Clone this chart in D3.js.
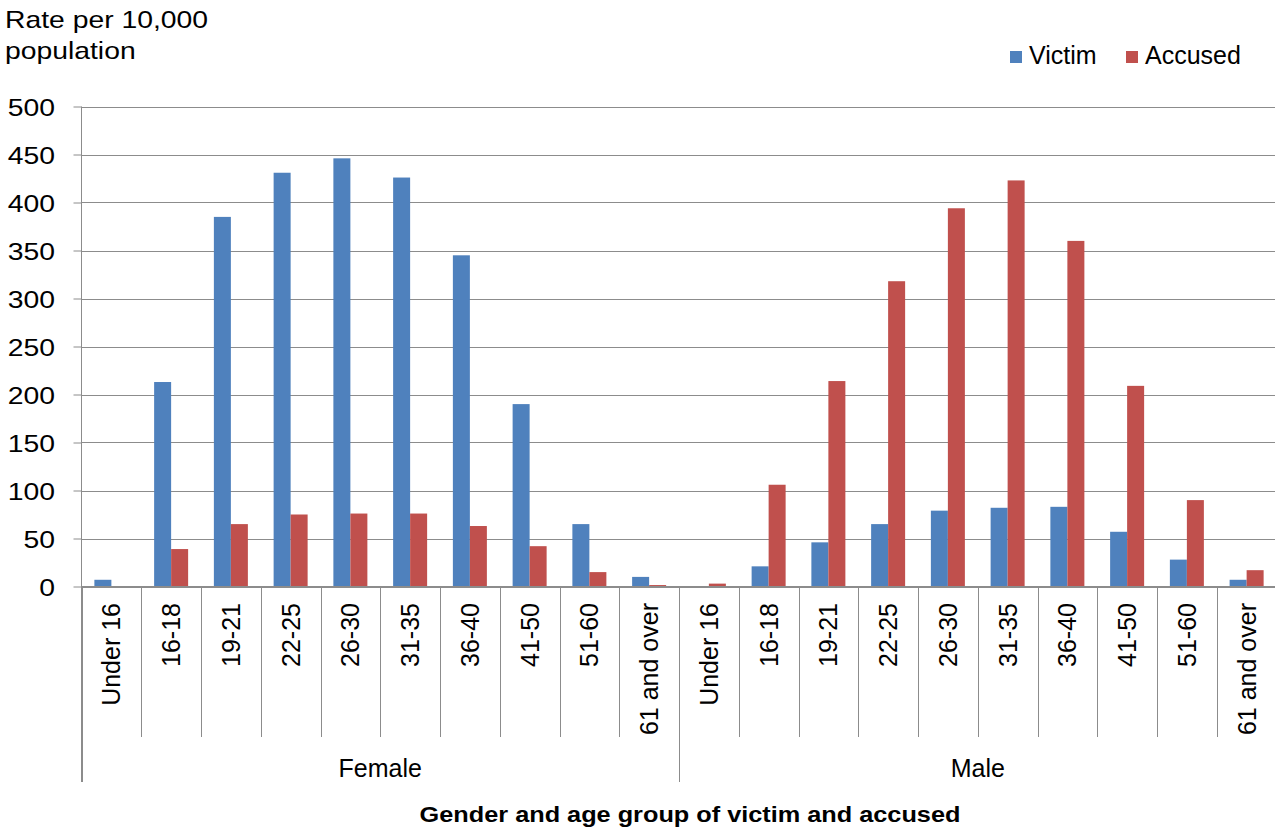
<!DOCTYPE html>
<html>
<head>
<meta charset="utf-8">
<script src="https://cdn.jsdelivr.net/npm/d3@7"></script>
<style>
  html, body { margin: 0; padding: 0; background: #fff; }
  svg { display: block; font-family: "Liberation Sans", Arial, sans-serif; }
</style>
</head>
<body>
<svg id="chart" width="1275" height="829"></svg>
<script>
// Age groups, repeated for each gender
const ageGroups = ["Under 16", "16-18", "19-21", "22-25", "26-30", "31-35", "36-40", "41-50", "51-60", "61 and over"];
const genders = ["Female", "Male"];
const seriesNames = ["Victim", "Accused"];
const seriesColors = ["#4F81BD", "#C0504D"];

// Rate per 10,000 population
const femaleVictim  = [7, 213, 385, 431, 446, 426, 345, 190, 65, 10];
const femaleAccused = [0, 39, 65, 75, 76, 76, 63, 42, 15, 1.5];
const maleVictim    = [0, 21, 46, 65, 79, 82, 83, 57, 28, 7];
const maleAccused   = [3, 106, 214, 318, 394, 423, 360, 209, 90, 17];

const yTicks = [0, 50, 100, 150, 200, 250, 300, 350, 400, 450, 500];

const rows = [];
genders.forEach((g, gi) => {
  const v = gi === 0 ? femaleVictim : maleVictim;
  const a = gi === 0 ? femaleAccused : maleAccused;
  ageGroups.forEach((age, i) => {
    rows.push({ key: g + "|" + age, gender: g, age: age, Victim: v[i], Accused: a[i] });
  });
});

const svg = d3.select("#chart");
const plotLeft = 81.5, plotRight = 1276.5, plotTop = 106.5, plotBottom = 586.5;
const gridColor = "#8c8c8c";
const wide = 1.18; // horizontal stretch of the wide-set labels

const x0 = d3.scaleBand().domain(rows.map(d => d.key)).range([plotLeft, plotRight]).padding(0);
const bw = x0.bandwidth();
const barW = 17;
const x1 = d3.scaleBand().domain(seriesNames).range([bw / 2 - barW, bw / 2 + barW]).padding(0);
const y = d3.scaleLinear().domain([0, 500]).range([plotBottom, plotTop]);

// Horizontal gridlines with tick marks
const yAxis = d3.axisLeft(y).tickValues(yTicks).tickSize(8).tickFormat(d3.format("d"));
const yg = svg.append("g").attr("transform", `translate(${plotLeft},0)`).call(yAxis);
yg.select(".domain").remove();
yg.selectAll(".tick line").attr("stroke", gridColor);
yg.selectAll(".tick text")
  .attr("x", 0)
  .attr("transform", `translate(-26.5,0) scale(${wide},1)`)
  .attr("font-size", 24).attr("fill", "#000").attr("dy", "0.36em");
svg.append("g").selectAll("line").data(yTicks).join("line")
  .attr("x1", plotLeft).attr("x2", plotRight)
  .attr("y1", d => Math.round(y(d)) + 0.5).attr("y2", d => Math.round(y(d)) + 0.5)
  .attr("stroke", gridColor).attr("stroke-width", 1);

// Bars
const catG = svg.append("g").selectAll("g").data(rows).join("g")
  .attr("transform", d => `translate(${x0(d.key)},0)`);
catG.selectAll("rect").data(d => seriesNames.map((s, i) => ({ s, i, v: d[s] })))
  .join("rect")
  .attr("x", d => x1(d.s))
  .attr("width", x1.bandwidth())
  .attr("y", d => y(d.v))
  .attr("height", d => y(0) - y(d.v))
  .attr("fill", d => seriesColors[d.i]);

// Category axis: baseline, separators and labels
svg.append("line").attr("x1", plotLeft).attr("x2", plotRight).attr("y1", plotBottom).attr("y2", plotBottom)
  .attr("stroke", gridColor);
rows.forEach((d, i) => {
  const xs = Math.round(x0(d.key)) + 0.5;
  const isGroupEdge = i % ageGroups.length === 0;
  svg.append("line").attr("x1", xs).attr("x2", xs).attr("y1", plotBottom)
    .attr("y2", isGroupEdge ? 782 : 737).attr("stroke", gridColor);
});
svg.append("line").attr("x1", plotRight).attr("x2", plotRight).attr("y1", plotBottom).attr("y2", 782).attr("stroke", gridColor);
// Y axis line
svg.append("line").attr("x1", plotLeft).attr("x2", plotLeft).attr("y1", plotTop).attr("y2", 782).attr("stroke", gridColor);

svg.append("g").selectAll("text").data(rows).join("text")
  .attr("transform", d => `translate(${x0(d.key) + bw / 2 + 9},603) rotate(-90)`)
  .attr("text-anchor", "end")
  .attr("font-size", 25)
  .attr("fill", "#000")
  .text(d => d.age);

// Gender group labels
svg.append("g").selectAll("text").data(genders).join("text")
  .attr("x", g => {
    const keys = rows.filter(r => r.gender === g).map(r => r.key);
    return (x0(keys[0]) + x0(keys[keys.length - 1]) + bw) / 2;
  })
  .attr("y", 777)
  .attr("text-anchor", "middle")
  .attr("font-size", 25)
  .attr("fill", "#000")
  .text(g => g);

// Axis titles
svg.append("text").attr("transform", `translate(5,28) scale(${wide},1)`)
  .attr("font-size", 24).attr("fill", "#000").text("Rate per 10,000");
svg.append("text").attr("transform", `translate(5,59) scale(${wide},1)`)
  .attr("font-size", 24).attr("fill", "#000").text("population");
svg.append("text").attr("transform", `translate(690,822) scale(1.15,1)`)
  .attr("text-anchor", "middle")
  .attr("font-size", 22).attr("font-weight", "bold").attr("fill", "#000")
  .text("Gender and age group of victim and accused");

// Legend
const legend = svg.append("g");
const legendPos = [{ sx: 1010, tx: 1029 }, { sx: 1126, tx: 1145 }];
seriesNames.forEach((s, i) => {
  legend.append("rect").attr("x", legendPos[i].sx).attr("y", 51).attr("width", 12).attr("height", 12)
    .attr("fill", seriesColors[i]);
  legend.append("text").attr("x", legendPos[i].tx).attr("y", 64).attr("font-size", 25)
    .attr("fill", "#000").text(s);
});
</script>
</body>
</html>
